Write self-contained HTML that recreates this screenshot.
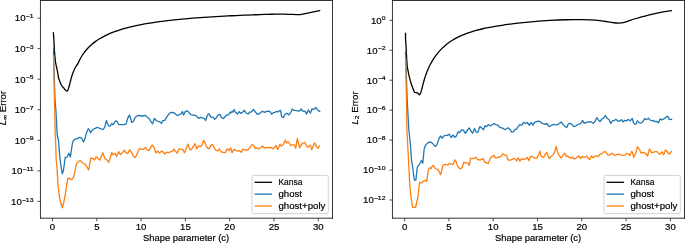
<!DOCTYPE html>
<html><head><meta charset="utf-8"><style>
html,body{margin:0;padding:0;background:#fff;overflow:hidden;}
svg{display:block;will-change:transform;}
text{font-family:"Liberation Sans",sans-serif;fill:#000;stroke:#000;stroke-width:0.18px;}
</style></head><body>
<svg width="685" height="243" viewBox="0 0 685 243">
<rect width="685" height="243" fill="#fff"/>
<path d="M53.40,32.80 C53.48,34.00 53.73,37.13 53.90,40.00 C54.07,42.87 54.25,47.50 54.40,50.00 C54.55,52.50 54.62,53.00 54.80,55.00 C54.98,57.00 55.20,59.95 55.50,62.00 C55.80,64.05 56.22,65.47 56.60,67.30 C56.98,69.13 57.47,71.22 57.80,73.00 C58.13,74.78 58.23,76.50 58.60,78.00 C58.97,79.50 59.50,80.75 60.00,82.00 C60.50,83.25 61.00,84.53 61.60,85.50 C62.20,86.47 63.00,87.08 63.60,87.80 C64.20,88.52 64.58,89.27 65.20,89.80 C65.82,90.33 66.68,91.45 67.30,91.00 C67.92,90.55 68.42,88.57 68.90,87.10 C69.38,85.63 69.77,83.85 70.20,82.20 C70.63,80.55 71.00,78.85 71.50,77.20 C72.00,75.55 72.58,73.87 73.20,72.30 C73.82,70.73 74.40,69.29 75.20,67.80 C76.00,66.31 77.20,64.78 78.00,63.35 C78.80,61.92 79.33,60.48 80.00,59.21 C80.67,57.94 81.33,56.82 82.00,55.75 C82.67,54.68 83.33,53.73 84.00,52.81 C84.67,51.90 85.33,51.06 86.00,50.26 C86.67,49.46 87.33,48.73 88.00,48.02 C88.67,47.32 89.33,46.66 90.00,46.03 C90.67,45.40 91.33,44.82 92.00,44.25 C92.67,43.68 93.33,43.15 94.00,42.63 C94.67,42.11 95.33,41.62 96.00,41.15 C96.67,40.68 97.33,40.23 98.00,39.80 C98.67,39.37 99.00,39.14 100.00,38.56 C101.00,37.98 102.67,37.03 104.00,36.34 C105.33,35.65 106.67,35.01 108.00,34.41 C109.33,33.81 110.67,33.25 112.00,32.72 C113.33,32.19 114.67,31.69 116.00,31.22 C117.33,30.75 118.67,30.30 120.00,29.88 C121.33,29.45 122.67,29.05 124.00,28.67 C125.33,28.29 126.67,27.93 128.00,27.58 C129.33,27.23 130.67,26.91 132.00,26.59 C133.33,26.27 134.67,25.97 136.00,25.68 C137.33,25.39 138.00,25.23 140.00,24.85 C142.00,24.47 145.33,23.84 148.00,23.39 C150.67,22.94 153.33,22.53 156.00,22.14 C158.67,21.75 161.33,21.40 164.00,21.06 C166.67,20.72 169.33,20.41 172.00,20.12 C174.67,19.83 177.33,19.55 180.00,19.29 C182.67,19.03 185.33,18.80 188.00,18.57 C190.67,18.34 193.33,18.12 196.00,17.92 C198.67,17.72 201.33,17.53 204.00,17.35 C206.67,17.17 209.33,16.99 212.00,16.83 C214.67,16.67 217.33,16.52 220.00,16.37 C222.67,16.22 225.33,16.08 228.00,15.95 C230.67,15.82 233.33,15.69 236.00,15.57 C238.67,15.45 241.33,15.32 244.00,15.21 C246.67,15.10 249.33,14.99 252.00,14.89 C254.67,14.79 257.33,14.69 260.00,14.59 C262.67,14.49 265.33,14.41 268.00,14.32 C270.67,14.23 273.33,14.09 276.00,14.06 C278.67,14.03 281.67,14.10 284.00,14.15 C286.33,14.20 288.00,14.28 290.00,14.35 C292.00,14.42 294.28,14.55 296.00,14.60 C297.72,14.65 299.58,14.64 300.30,14.65 C303.52,13.97 316.38,11.23 319.60,10.55" fill="none" stroke="#000" stroke-width="1.3" stroke-linejoin="round" stroke-linecap="square"/>
<polyline points="53.6,47.9 53.6,55.0 54.2,75.0 55.0,100.0 55.9,110.0 57.2,135.0 58.4,140.0 60.1,160.0 61.3,168.0 62.3,173.8 63.5,170.0 64.2,165.0 65.2,157.4 67.1,157.2 68.9,153.3 70.4,157.0 71.6,148.6 72.6,142.5 73.3,141.0 74.4,139.5 75.8,138.8 77.7,138.5 79.4,137.4 81.1,137.7 82.3,139.5 83.4,142.0 84.9,138.8 86.6,132.3 88.3,128.7 89.5,130.2 90.6,132.8 92.1,130.2 93.5,129.0 95.3,128.4 97.0,127.3 98.9,128.0 99.8,128.4 101.7,129.2 103.2,129.3 104.8,127.2 106.4,120.4 107.6,123.5 108.9,126.2 110.3,126.2 111.8,123.5 112.8,124.7 114.0,123.5 115.5,121.0 117.1,121.3 118.7,124.5 120.2,124.7 122.0,124.7 123.9,124.5 126.1,124.1 127.6,118.6 129.4,115.1 130.7,118.6 131.8,122.6 133.5,121.2 134.9,117.9 136.8,116.0 138.6,115.4 141.1,116.0 142.9,116.0 145.4,115.4 147.3,117.3 149.1,118.5 151.0,121.6 152.6,123.8 154.4,118.5 156.1,120.3 157.7,121.3 159.6,121.6 161.4,123.4 163.0,120.6 164.8,120.3 166.7,117.2 168.5,114.5 170.4,112.6 172.6,112.3 174.7,113.2 176.3,114.7 177.5,115.7 179.0,114.7 180.9,114.1 182.4,111.6 183.7,115.0 185.2,111.6 187.0,110.8 188.9,112.3 190.7,114.5 192.6,115.1 194.8,115.1 196.5,116.0 197.2,116.7 198.7,118.3 200.7,117.3 202.8,117.9 204.4,118.5 205.6,120.6 206.9,116.7 208.1,114.2 209.3,114.0 210.5,116.7 212.0,117.3 213.3,117.3 214.7,119.4 216.3,117.9 218.2,114.8 220.0,114.4 221.6,117.9 223.4,118.5 225.6,116.0 227.1,114.8 228.7,114.8 230.0,112.2 231.2,112.8 232.1,111.2 232.9,112.2 234.2,109.5 235.4,112.2 237.4,114.0 239.1,111.6 240.7,113.4 242.6,112.2 244.4,110.3 246.3,113.2 248.1,114.0 249.7,112.2 251.2,112.2 253.4,109.5 255.1,111.6 257.1,114.0 258.8,114.0 260.8,112.6 262.3,111.3 263.5,111.8 264.7,112.4 266.3,111.4 268.8,111.2 270.4,112.0 271.6,114.3 273.3,112.7 274.9,112.4 276.5,111.4 278.0,112.0 279.3,110.8 280.5,110.4 281.7,117.0 283.2,117.6 284.8,114.5 286.4,113.3 287.9,113.9 289.1,114.9 291.0,112.0 292.3,109.0 293.2,110.0 294.7,110.4 296.7,110.6 298.8,111.2 300.0,110.6 301.2,109.0 302.5,110.8 303.7,111.4 304.9,111.2 306.6,114.1 308.3,110.0 309.3,111.4 310.5,113.0 312.0,108.7 313.2,109.6 314.4,109.0 315.7,107.4 317.3,109.6 318.5,110.8 319.7,111.4" fill="none" stroke="#1f77b4" stroke-width="1.3" stroke-linejoin="round" stroke-linecap="square"/>
<polyline points="53.6,56.0 53.6,60.0 54.2,90.0 54.7,110.0 55.2,135.0 55.6,140.0 56.2,160.0 56.8,165.0 58.0,185.0 59.3,196.0 60.5,202.0 62.3,207.8 63.8,202.0 65.1,196.0 66.7,185.0 67.9,178.2 69.5,178.4 71.2,179.6 72.6,179.0 74.1,175.3 75.3,169.7 76.3,164.2 77.8,162.3 80.0,160.5 81.9,162.1 83.5,163.6 85.2,164.2 86.8,166.6 88.7,170.0 89.9,162.9 90.9,158.0 93.0,158.6 94.6,159.9 96.1,156.8 97.5,157.6 98.2,158.3 99.7,160.2 101.3,156.5 102.9,152.8 104.2,156.5 105.4,159.2 106.9,159.9 108.7,162.4 110.3,157.7 111.8,152.5 113.0,154.6 115.2,153.4 116.7,156.5 118.6,151.6 120.4,154.6 122.3,152.8 124.4,150.1 126.0,152.8 127.8,153.4 129.7,149.7 131.5,152.3 133.1,155.4 134.9,157.6 136.4,155.7 138.0,151.1 139.9,148.3 141.7,149.3 143.6,149.3 145.4,147.4 147.3,149.9 149.1,150.7 150.7,147.4 152.4,145.0 154.0,147.4 156.1,153.0 157.7,151.1 159.6,153.0 161.8,151.1 163.3,152.3 164.8,154.0 166.7,152.2 168.5,152.8 170.4,151.6 172.2,151.6 173.9,149.1 175.3,151.0 177.2,153.2 178.8,149.1 180.9,149.1 182.7,149.7 184.6,152.8 186.4,147.9 188.0,144.2 189.9,149.7 191.4,149.7 193.2,146.6 195.1,143.6 196.5,148.5 197.0,148.3 198.5,145.9 200.3,146.7 201.9,145.3 203.6,140.3 204.9,142.6 206.5,146.5 208.3,148.7 209.6,148.3 210.8,145.3 212.6,144.6 214.2,148.0 215.7,150.0 217.9,150.8 219.4,149.0 221.3,152.0 223.4,152.4 225.3,152.7 227.1,149.0 229.0,150.6 230.5,147.8 232.1,152.7 233.9,149.4 235.8,150.3 237.6,151.1 239.5,150.6 241.1,152.4 242.8,149.4 245.0,149.7 247.5,150.3 249.3,148.4 251.8,144.5 253.7,145.3 255.1,148.4 257.1,147.8 258.8,149.0 260.8,147.8 262.5,146.0 263.5,147.3 265.1,148.1 266.9,147.3 268.8,147.6 270.9,147.3 272.9,148.9 274.3,147.3 276.2,145.7 277.8,149.7 279.9,144.2 281.5,146.0 283.2,144.8 285.2,140.2 286.7,143.0 288.1,141.7 289.7,144.0 291.0,145.7 292.8,144.5 294.5,145.0 295.7,148.3 297.3,138.5 298.4,143.0 299.6,147.9 301.2,144.8 303.1,143.0 304.6,142.3 306.2,145.4 307.8,147.3 309.3,146.0 310.5,145.2 311.7,149.7 313.0,146.7 314.2,143.0 315.4,144.0 316.7,146.7 317.9,148.5 319.4,146.0" fill="none" stroke="#ff7f0e" stroke-width="1.3" stroke-linejoin="round" stroke-linecap="square"/>
<line x1="40.45" y1="0.09999999999999998" x2="40.45" y2="218.6" stroke="#000" stroke-width="0.8"/>
<line x1="332.5" y1="0.09999999999999998" x2="332.5" y2="218.6" stroke="#000" stroke-width="0.8"/>
<line x1="40.050000000000004" y1="0.5" x2="332.9" y2="0.5" stroke="#000" stroke-width="0.8"/>
<line x1="40.050000000000004" y1="218.2" x2="332.9" y2="218.2" stroke="#000" stroke-width="0.8"/>
<line x1="52.5" y1="218.2" x2="52.5" y2="221.2" stroke="#000" stroke-width="0.7"/>
<text transform="translate(52.5,230.3) scale(1.12,1)" text-anchor="middle" font-size="8.6">0</text>
<line x1="96.8" y1="218.2" x2="96.8" y2="221.2" stroke="#000" stroke-width="0.7"/>
<text transform="translate(96.8,230.3) scale(1.12,1)" text-anchor="middle" font-size="8.6">5</text>
<line x1="141.1" y1="218.2" x2="141.1" y2="221.2" stroke="#000" stroke-width="0.7"/>
<text transform="translate(141.1,230.3) scale(1.12,1)" text-anchor="middle" font-size="8.6">10</text>
<line x1="185.39999999999998" y1="218.2" x2="185.39999999999998" y2="221.2" stroke="#000" stroke-width="0.7"/>
<text transform="translate(185.39999999999998,230.3) scale(1.12,1)" text-anchor="middle" font-size="8.6">15</text>
<line x1="229.7" y1="218.2" x2="229.7" y2="221.2" stroke="#000" stroke-width="0.7"/>
<text transform="translate(229.7,230.3) scale(1.12,1)" text-anchor="middle" font-size="8.6">20</text>
<line x1="274.0" y1="218.2" x2="274.0" y2="221.2" stroke="#000" stroke-width="0.7"/>
<text transform="translate(274.0,230.3) scale(1.12,1)" text-anchor="middle" font-size="8.6">25</text>
<line x1="318.29999999999995" y1="218.2" x2="318.29999999999995" y2="221.2" stroke="#000" stroke-width="0.7"/>
<text transform="translate(318.29999999999995,230.3) scale(1.12,1)" text-anchor="middle" font-size="8.6">30</text>
<line x1="37.45" y1="18.1" x2="40.45" y2="18.1" stroke="#000" stroke-width="0.7"/>
<text transform="translate(33.45,21.400000000000002) scale(1.12,1)" text-anchor="end" font-size="8.6">10<tspan dx="0.7" dy="-3.2" font-size="5.3">–</tspan><tspan font-size="6.1">1</tspan></text>
<line x1="37.45" y1="48.650000000000006" x2="40.45" y2="48.650000000000006" stroke="#000" stroke-width="0.7"/>
<text transform="translate(33.45,51.95) scale(1.12,1)" text-anchor="end" font-size="8.6">10<tspan dx="0.7" dy="-3.2" font-size="5.3">–</tspan><tspan font-size="6.1">3</tspan></text>
<line x1="37.45" y1="79.2" x2="40.45" y2="79.2" stroke="#000" stroke-width="0.7"/>
<text transform="translate(33.45,82.5) scale(1.12,1)" text-anchor="end" font-size="8.6">10<tspan dx="0.7" dy="-3.2" font-size="5.3">–</tspan><tspan font-size="6.1">5</tspan></text>
<line x1="37.45" y1="109.75" x2="40.45" y2="109.75" stroke="#000" stroke-width="0.7"/>
<text transform="translate(33.45,113.05) scale(1.12,1)" text-anchor="end" font-size="8.6">10<tspan dx="0.7" dy="-3.2" font-size="5.3">–</tspan><tspan font-size="6.1">7</tspan></text>
<line x1="37.45" y1="140.3" x2="40.45" y2="140.3" stroke="#000" stroke-width="0.7"/>
<text transform="translate(33.45,143.60000000000002) scale(1.12,1)" text-anchor="end" font-size="8.6">10<tspan dx="0.7" dy="-3.2" font-size="5.3">–</tspan><tspan font-size="6.1">9</tspan></text>
<line x1="37.45" y1="170.85" x2="40.45" y2="170.85" stroke="#000" stroke-width="0.7"/>
<text transform="translate(33.45,174.15) scale(1.12,1)" text-anchor="end" font-size="8.6">10<tspan dx="0.7" dy="-3.2" font-size="5.3">–</tspan><tspan font-size="6.1">11</tspan></text>
<line x1="37.45" y1="201.4" x2="40.45" y2="201.4" stroke="#000" stroke-width="0.7"/>
<text transform="translate(33.45,204.70000000000002) scale(1.12,1)" text-anchor="end" font-size="8.6">10<tspan dx="0.7" dy="-3.2" font-size="5.3">–</tspan><tspan font-size="6.1">13</tspan></text>
<text transform="translate(186.075,241.3) scale(1.094,1)" text-anchor="middle" font-size="8.6">Shape parameter (c)</text>
<text transform="translate(6.0,108.0) rotate(-90) scale(1.12,1)" text-anchor="middle" font-size="8.6"><tspan font-style="italic">L</tspan><tspan dy="1.4" font-size="6.1">∞</tspan><tspan dy="-1.4"> Error</tspan></text>
<rect x="252.0" y="175.4" width="76.30000000000001" height="38.2" rx="1.8" fill="#fff" fill-opacity="0.8" stroke="#ccc" stroke-width="0.85"/>
<line x1="255.2" y1="182.3" x2="271.4" y2="182.3" stroke="#000" stroke-width="1.3" stroke-linecap="square"/>
<text transform="translate(278.5,185.2) scale(0.98,1)" text-anchor="start" font-size="8.6">Kansa</text>
<line x1="255.2" y1="194.15" x2="271.4" y2="194.15" stroke="#1f77b4" stroke-width="1.3" stroke-linecap="square"/>
<text transform="translate(278.5,197.0) scale(1.12,1)" text-anchor="start" font-size="8.6">ghost</text>
<line x1="255.2" y1="206.0" x2="271.4" y2="206.0" stroke="#ff7f0e" stroke-width="1.3" stroke-linecap="square"/>
<text transform="translate(278.5,208.79999999999998) scale(1.12,1)" text-anchor="start" font-size="8.6">ghost+poly</text>
<path d="M405.50,33.40 C405.52,34.50 405.52,38.07 405.60,40.00 C405.68,41.93 405.85,42.50 406.00,45.00 C406.15,47.50 406.30,51.50 406.50,55.00 C406.70,58.50 406.97,63.50 407.20,66.00 C407.43,68.50 407.53,68.13 407.90,70.00 C408.27,71.87 408.83,74.87 409.40,77.20 C409.97,79.53 410.70,82.10 411.30,84.00 C411.90,85.90 412.47,87.22 413.00,88.60 C413.53,89.98 414.25,91.68 414.50,92.30 C414.80,92.35 415.73,92.43 416.30,92.60 C416.87,92.77 417.38,92.93 417.90,93.30 C418.42,93.67 419.15,94.55 419.40,94.80 C419.62,94.48 420.28,93.91 420.70,92.90 C421.12,91.89 421.52,90.15 421.90,88.72 C422.28,87.29 422.62,85.76 423.00,84.30 C423.38,82.84 423.78,81.38 424.20,79.98 C424.62,78.58 425.03,77.24 425.50,75.88 C425.97,74.52 426.50,73.07 427.00,71.79 C427.50,70.51 428.00,69.34 428.50,68.22 C429.00,67.10 429.42,66.22 430.00,65.08 C430.58,63.95 431.33,62.56 432.00,61.41 C432.67,60.26 433.25,59.31 434.00,58.19 C434.75,57.07 435.67,55.77 436.50,54.67 C437.33,53.57 438.08,52.65 439.00,51.61 C439.92,50.57 441.00,49.40 442.00,48.41 C443.00,47.41 444.00,46.50 445.00,45.64 C446.00,44.78 446.83,44.09 448.00,43.23 C449.17,42.37 450.67,41.32 452.00,40.47 C453.33,39.62 454.67,38.85 456.00,38.13 C457.33,37.41 458.50,36.82 460.00,36.14 C461.50,35.46 463.33,34.69 465.00,34.04 C466.67,33.39 468.17,32.86 470.00,32.27 C471.83,31.68 474.00,31.04 476.00,30.49 C478.00,29.94 480.00,29.46 482.00,29.00 C484.00,28.54 485.83,28.14 488.00,27.71 C490.17,27.28 492.67,26.82 495.00,26.42 C497.33,26.02 499.50,25.67 502.00,25.29 C504.50,24.91 507.33,24.52 510.00,24.16 C512.67,23.80 515.33,23.47 518.00,23.16 C520.67,22.85 523.33,22.56 526.00,22.29 C528.67,22.02 531.33,21.77 534.00,21.54 C536.67,21.31 539.33,21.09 542.00,20.90 C544.67,20.71 547.33,20.53 550.00,20.38 C552.67,20.23 555.33,20.10 558.00,19.99 C560.67,19.88 563.33,19.80 566.00,19.74 C568.67,19.68 571.33,19.65 574.00,19.64 C576.67,19.63 579.33,19.65 582.00,19.70 C584.67,19.75 587.33,19.82 590.00,19.93 C592.67,20.04 595.78,20.16 598.00,20.35 C600.22,20.55 601.63,20.86 603.30,21.10 C604.97,21.34 606.40,21.55 608.00,21.80 C609.60,22.05 611.12,22.38 612.90,22.60 C614.68,22.83 616.77,23.18 618.70,23.15 C620.63,23.12 622.58,22.86 624.50,22.40 C626.42,21.94 628.28,21.05 630.20,20.40 C632.12,19.75 634.08,19.10 636.00,18.50 C637.92,17.90 640.20,17.21 641.70,16.80 C643.20,16.39 643.35,16.45 645.00,16.05 C646.65,15.65 649.40,14.94 651.60,14.40 C653.80,13.86 656.02,13.27 658.20,12.80 C660.38,12.33 662.52,11.97 664.70,11.60 C666.88,11.23 670.20,10.77 671.30,10.60" fill="none" stroke="#000" stroke-width="1.3" stroke-linejoin="round" stroke-linecap="square"/>
<polyline points="405.5,51.9 405.8,60.0 406.5,80.0 407.2,100.0 408.3,120.0 408.9,130.0 410.5,145.0 411.5,160.0 412.5,166.0 413.5,174.0 414.4,180.2 415.9,180.0 417.3,167.2 419.5,164.3 421.5,160.5 422.8,163.3 424.2,148.7 425.6,145.1 428.1,142.7 430.5,141.8 432.9,143.7 434.5,145.9 435.7,146.5 437.2,144.0 438.8,139.1 440.4,136.0 442.1,138.2 443.7,136.0 445.6,135.4 447.4,135.4 449.3,134.2 451.1,137.5 453.0,135.0 454.8,137.3 456.4,136.0 458.1,131.7 459.7,132.6 461.6,129.9 463.4,130.1 465.3,133.4 466.2,132.2 467.7,129.7 469.3,127.9 470.9,131.0 472.6,133.2 474.6,128.5 476.3,132.4 477.9,132.2 479.8,126.6 481.6,127.9 483.5,129.7 485.0,125.8 486.6,126.6 488.4,124.6 490.3,126.0 492.1,124.8 494.0,123.6 495.8,124.6 497.7,125.0 499.5,127.2 501.5,127.8 503.2,128.4 504.8,129.7 506.4,128.7 508.1,127.8 510.1,129.7 511.8,132.1 513.4,131.9 515.0,129.4 516.7,129.0 518.3,126.2 520.0,124.5 521.7,125.1 523.6,122.5 525.4,123.5 527.3,122.5 529.4,125.3 531.0,122.5 532.2,123.8 532.9,125.3 534.5,122.4 536.5,121.6 538.4,121.2 539.9,121.6 541.9,123.2 543.9,124.0 545.5,124.4 547.0,123.4 548.3,125.9 549.7,126.5 551.7,125.3 553.4,124.4 555.4,124.7 557.1,124.9 559.1,123.7 561.2,122.0 563.1,124.4 564.9,126.3 566.7,127.6 568.3,123.9 570.2,123.3 572.0,124.5 573.9,126.6 575.7,126.1 577.8,124.5 579.8,123.9 581.3,122.7 582.5,120.4 584.3,123.3 586.2,122.4 588.7,122.0 591.1,121.7 593.3,123.3 595.1,121.4 596.7,117.7 598.2,119.7 600.1,121.5 601.9,119.0 603.8,117.8 605.4,115.7 607.1,118.2 609.1,119.7 610.8,123.4 612.4,120.9 614.3,120.3 616.1,119.4 618.0,121.1 619.8,121.1 621.4,119.7 623.1,121.9 624.7,120.3 626.3,120.9 628.4,119.4 630.0,120.9 631.2,119.7 632.2,118.5 633.5,122.8 634.7,124.4 635.9,124.0 637.4,120.9 639.3,122.8 641.1,123.1 643.0,121.5 644.6,118.5 646.3,119.7 648.3,118.2 650.0,120.0 651.5,120.8 653.1,120.4 654.9,121.6 656.8,121.3 658.4,122.9 660.1,118.8 661.7,120.0 663.3,119.2 665.0,117.9 666.6,116.7 667.9,116.3 669.1,119.2 670.3,119.6 671.6,119.2" fill="none" stroke="#1f77b4" stroke-width="1.3" stroke-linejoin="round" stroke-linecap="square"/>
<polyline points="405.5,58.5 405.8,70.0 406.5,100.0 406.9,130.0 407.2,135.0 408.6,162.0 409.8,185.0 410.8,196.5 412.7,207.3 415.6,207.3 418.0,196.5 419.0,187.0 419.6,182.3 421.3,183.0 423.1,181.6 424.8,180.2 426.7,181.6 428.1,170.8 429.5,167.9 431.0,168.6 432.0,166.5 433.5,165.3 434.7,167.8 436.3,169.0 437.9,169.7 439.4,172.1 440.6,174.6 441.6,170.9 442.9,165.3 444.3,164.7 446.2,164.5 447.8,165.0 449.5,163.2 451.1,164.1 453.0,164.5 454.8,159.8 456.0,161.6 457.3,165.3 458.9,167.8 460.6,169.0 462.2,167.2 463.8,162.3 465.5,162.9 466.8,162.8 468.1,163.4 469.3,165.3 470.5,158.5 472.4,158.5 474.2,158.2 476.1,157.3 477.9,159.5 479.8,160.0 481.6,159.5 483.2,158.5 484.7,162.2 486.6,162.8 488.4,163.4 490.3,158.2 492.1,156.6 494.0,155.4 495.8,158.2 497.7,157.3 499.8,157.0 501.5,156.0 502.9,153.7 504.8,155.0 506.4,155.3 507.9,159.7 509.7,160.3 511.6,159.7 513.8,158.4 515.3,159.0 516.7,160.9 518.3,157.8 520.0,161.1 521.7,158.7 523.6,159.4 525.4,159.0 527.3,157.4 529.1,160.6 530.7,156.6 532.5,156.4 534.1,157.9 535.7,158.5 537.4,157.3 538.6,154.8 539.9,151.1 541.1,156.0 542.7,157.3 543.9,156.9 545.2,154.2 546.8,152.3 548.0,156.0 549.2,158.5 550.7,156.7 552.2,155.4 553.8,153.9 555.0,150.5 556.3,146.5 557.5,151.7 559.1,155.4 561.2,158.1 563.1,154.8 564.5,153.4 565.0,153.2 566.2,156.5 567.7,156.1 569.2,157.1 570.8,158.1 572.4,157.1 574.1,159.0 575.7,158.1 577.6,156.9 579.0,155.9 580.6,158.6 582.2,156.5 583.7,157.4 585.2,156.9 586.8,156.1 588.4,158.6 589.9,159.6 591.4,155.9 593.0,157.7 594.6,156.5 596.3,155.9 598.5,156.4 600.1,154.1 601.9,153.9 603.4,152.4 605.0,151.4 606.2,152.7 607.9,154.9 609.3,155.1 610.8,154.1 612.4,153.3 614.3,155.4 616.1,154.9 618.0,154.1 619.8,154.5 621.7,155.1 623.5,155.4 625.1,155.1 626.6,153.3 628.4,153.9 630.0,155.5 631.5,151.5 632.5,152.0 633.6,157.4 635.5,153.8 637.5,146.6 639.4,149.5 641.2,153.1 643.3,152.4 645.6,153.5 647.6,156.0 649.5,148.8 651.3,152.5 653.2,152.3 655.2,151.7 657.0,151.7 658.6,153.6 660.1,154.2 662.1,151.7 663.6,154.8 665.6,149.8 667.4,152.0 669.1,154.2 670.3,152.9 671.6,151.3" fill="none" stroke="#ff7f0e" stroke-width="1.3" stroke-linejoin="round" stroke-linecap="square"/>
<line x1="392.45" y1="0.09999999999999998" x2="392.45" y2="218.6" stroke="#000" stroke-width="0.8"/>
<line x1="684.5" y1="0.09999999999999998" x2="684.5" y2="218.6" stroke="#000" stroke-width="0.8"/>
<line x1="392.05" y1="0.5" x2="684.9" y2="0.5" stroke="#000" stroke-width="0.8"/>
<line x1="392.05" y1="218.2" x2="684.9" y2="218.2" stroke="#000" stroke-width="0.8"/>
<line x1="404.6" y1="218.2" x2="404.6" y2="221.2" stroke="#000" stroke-width="0.7"/>
<text transform="translate(404.6,230.3) scale(1.12,1)" text-anchor="middle" font-size="8.6">0</text>
<line x1="448.90000000000003" y1="218.2" x2="448.90000000000003" y2="221.2" stroke="#000" stroke-width="0.7"/>
<text transform="translate(448.90000000000003,230.3) scale(1.12,1)" text-anchor="middle" font-size="8.6">5</text>
<line x1="493.20000000000005" y1="218.2" x2="493.20000000000005" y2="221.2" stroke="#000" stroke-width="0.7"/>
<text transform="translate(493.20000000000005,230.3) scale(1.12,1)" text-anchor="middle" font-size="8.6">10</text>
<line x1="537.5" y1="218.2" x2="537.5" y2="221.2" stroke="#000" stroke-width="0.7"/>
<text transform="translate(537.5,230.3) scale(1.12,1)" text-anchor="middle" font-size="8.6">15</text>
<line x1="581.8" y1="218.2" x2="581.8" y2="221.2" stroke="#000" stroke-width="0.7"/>
<text transform="translate(581.8,230.3) scale(1.12,1)" text-anchor="middle" font-size="8.6">20</text>
<line x1="626.1" y1="218.2" x2="626.1" y2="221.2" stroke="#000" stroke-width="0.7"/>
<text transform="translate(626.1,230.3) scale(1.12,1)" text-anchor="middle" font-size="8.6">25</text>
<line x1="670.4" y1="218.2" x2="670.4" y2="221.2" stroke="#000" stroke-width="0.7"/>
<text transform="translate(670.4,230.3) scale(1.12,1)" text-anchor="middle" font-size="8.6">30</text>
<line x1="389.45" y1="20.3" x2="392.45" y2="20.3" stroke="#000" stroke-width="0.7"/>
<text transform="translate(385.45,23.6) scale(1.12,1)" text-anchor="end" font-size="8.6">10<tspan dy="-3.2" font-size="6.1">0</tspan></text>
<line x1="389.45" y1="50.25" x2="392.45" y2="50.25" stroke="#000" stroke-width="0.7"/>
<text transform="translate(385.45,53.55) scale(1.12,1)" text-anchor="end" font-size="8.6">10<tspan dx="0.7" dy="-3.2" font-size="5.3">–</tspan><tspan font-size="6.1">2</tspan></text>
<line x1="389.45" y1="80.2" x2="392.45" y2="80.2" stroke="#000" stroke-width="0.7"/>
<text transform="translate(385.45,83.5) scale(1.12,1)" text-anchor="end" font-size="8.6">10<tspan dx="0.7" dy="-3.2" font-size="5.3">–</tspan><tspan font-size="6.1">4</tspan></text>
<line x1="389.45" y1="110.14999999999999" x2="392.45" y2="110.14999999999999" stroke="#000" stroke-width="0.7"/>
<text transform="translate(385.45,113.44999999999999) scale(1.12,1)" text-anchor="end" font-size="8.6">10<tspan dx="0.7" dy="-3.2" font-size="5.3">–</tspan><tspan font-size="6.1">6</tspan></text>
<line x1="389.45" y1="140.1" x2="392.45" y2="140.1" stroke="#000" stroke-width="0.7"/>
<text transform="translate(385.45,143.4) scale(1.12,1)" text-anchor="end" font-size="8.6">10<tspan dx="0.7" dy="-3.2" font-size="5.3">–</tspan><tspan font-size="6.1">8</tspan></text>
<line x1="389.45" y1="170.05" x2="392.45" y2="170.05" stroke="#000" stroke-width="0.7"/>
<text transform="translate(385.45,173.35000000000002) scale(1.12,1)" text-anchor="end" font-size="8.6">10<tspan dx="0.7" dy="-3.2" font-size="5.3">–</tspan><tspan font-size="6.1">10</tspan></text>
<line x1="389.45" y1="200.0" x2="392.45" y2="200.0" stroke="#000" stroke-width="0.7"/>
<text transform="translate(385.45,203.3) scale(1.12,1)" text-anchor="end" font-size="8.6">10<tspan dx="0.7" dy="-3.2" font-size="5.3">–</tspan><tspan font-size="6.1">12</tspan></text>
<text transform="translate(538.075,241.3) scale(1.094,1)" text-anchor="middle" font-size="8.6">Shape parameter (c)</text>
<text transform="translate(358.0,108.0) rotate(-90) scale(1.12,1)" text-anchor="middle" font-size="8.6"><tspan font-style="italic">L</tspan><tspan dy="1.4" font-size="6.1">2</tspan><tspan dy="-1.4"> Error</tspan></text>
<rect x="604.0" y="175.4" width="76.29999999999995" height="38.2" rx="1.8" fill="#fff" fill-opacity="0.8" stroke="#ccc" stroke-width="0.85"/>
<line x1="607.2" y1="182.3" x2="623.4" y2="182.3" stroke="#000" stroke-width="1.3" stroke-linecap="square"/>
<text transform="translate(630.5,185.2) scale(0.98,1)" text-anchor="start" font-size="8.6">Kansa</text>
<line x1="607.2" y1="194.15" x2="623.4" y2="194.15" stroke="#1f77b4" stroke-width="1.3" stroke-linecap="square"/>
<text transform="translate(630.5,197.0) scale(1.12,1)" text-anchor="start" font-size="8.6">ghost</text>
<line x1="607.2" y1="206.0" x2="623.4" y2="206.0" stroke="#ff7f0e" stroke-width="1.3" stroke-linecap="square"/>
<text transform="translate(630.5,208.79999999999998) scale(1.12,1)" text-anchor="start" font-size="8.6">ghost+poly</text>
</svg>
</body></html>
